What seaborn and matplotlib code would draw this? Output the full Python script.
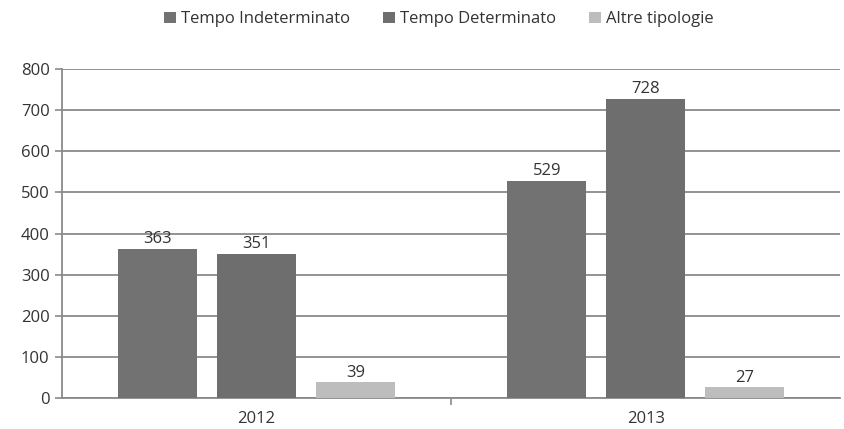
import matplotlib
matplotlib.use("Agg")
import matplotlib.pyplot as plt
import seaborn as sns
import pandas as pd
from matplotlib.patches import Patch

years = ["2012", "2013"]
series = ["Tempo Indeterminato", "Tempo Determinato", "Altre tipologie"]
tempo_indeterminato = [363, 529]
tempo_determinato = [351, 728]
altre_tipologie = [39, 27]
yticks = [0, 100, 200, 300, 400, 500, 600, 700, 800]

rows = []
for i, y in enumerate(years):
    rows.append({"anno": y, "tipo": series[0], "valore": tempo_indeterminato[i]})
    rows.append({"anno": y, "tipo": series[1], "valore": tempo_determinato[i]})
    rows.append({"anno": y, "tipo": series[2], "valore": altre_tipologie[i]})
df = pd.DataFrame(rows)

sns.set_theme(style="white")
plt.rcParams["font.family"] = ["Open Sans", "DejaVu Sans"]

colors = ["#727272", "#6e6e6e", "#bdbdbd"]
fig = plt.figure(figsize=(8.44, 4.29), dpi=100)
ax = fig.add_axes([0.0735, 0.072, 0.922, 0.767])

sns.barplot(data=df, x="anno", y="valore", hue="tipo", hue_order=series,
            palette=colors, width=0.763, gap=0.2, ax=ax, legend=False,
            edgecolor="none", linewidth=0, zorder=3)

for c in ax.containers:
    ax.bar_label(c, fmt="%d", padding=1, fontsize=12, color="#333333")

ax.set_ylim(0, 800)
ax.set_xlim(-0.5, 1.5)
ax.set_yticks(yticks)
ax.yaxis.grid(True, color="#8a8a8a", linewidth=1.3, zorder=0)
ax.set_axisbelow(True)
for s in ["top", "right"]:
    ax.spines[s].set_visible(False)
ax.spines["left"].set_color("#8a8a8a")
ax.spines["left"].set_linewidth(1.3)
ax.spines["bottom"].set_color("#8a8a8a")
ax.spines["bottom"].set_linewidth(1.3)
ax.tick_params(axis="y", which="major", left=True, length=5, width=1.2, color="#8a8a8a",
               labelsize=12, labelcolor="#333333", pad=4)
ax.tick_params(axis="x", which="major", bottom=False, labelsize=12, labelcolor="#333333", pad=3)
ax.set_xticks([0.5], minor=True)
ax.tick_params(axis="x", which="minor", bottom=True, length=5, width=1.2, color="#8a8a8a")
ax.set_xlabel("")
ax.set_ylabel("")

handles = [Patch(facecolor=c, edgecolor="none") for c in colors]
fig.legend(handles, series, loc="center", bbox_to_anchor=(0.52, 0.955), ncol=3,
           frameon=False, fontsize=12, handlelength=0.7, handleheight=0.7,
           handletextpad=0.3, columnspacing=2.0, labelcolor="#333333")

fig.savefig("out.png", dpi=100)
